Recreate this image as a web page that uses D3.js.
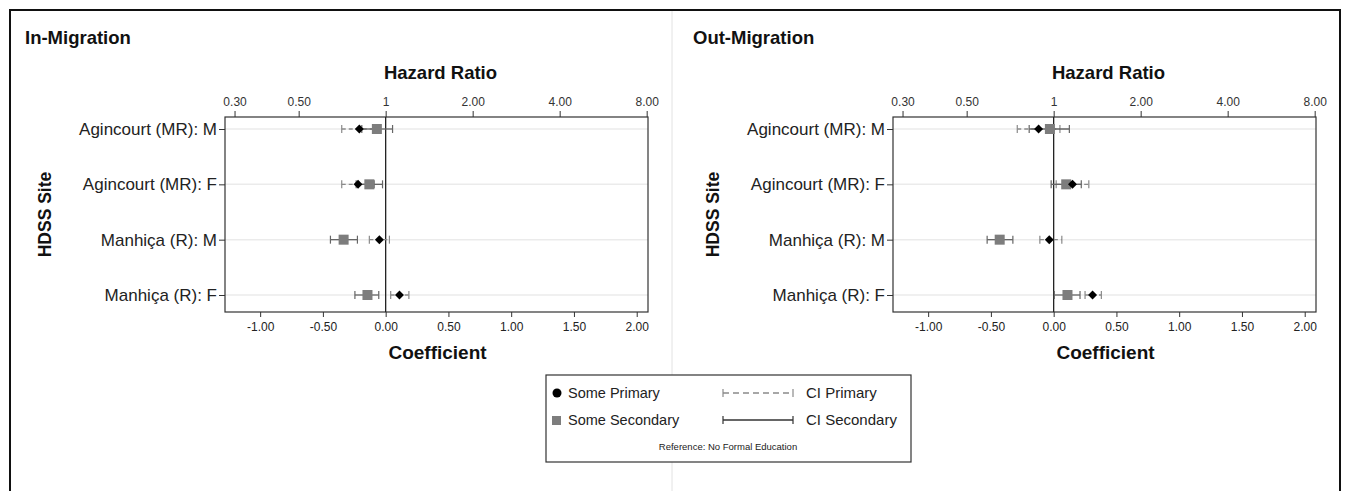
<!DOCTYPE html>
<html>
<head>
<meta charset="utf-8">
<script src="https://cdn.jsdelivr.net/npm/d3@7"></script>
<style>
  html, body { margin: 0; padding: 0; background: #fff; }
  svg { display: block; font-family: "Liberation Sans", Arial, sans-serif; }
</style>
</head>
<body>
<svg id="chart" width="1349" height="491"></svg>
<script>
// Sites (rows, top to bottom)
const sites = ["Agincourt (MR): M", "Agincourt (MR): F", "Manhiça (R): M", "Manhiça (R): F"];

// Axis ticks
const coefTicks = [-1, -0.5, 0, 0.5, 1, 1.5, 2];
const hrTicks = [0.3, 0.5, 1, 2, 4, 8];
const hrTickLabels = ["0.30", "0.50", "1", "2.00", "4.00", "8.00"];

// In-migration coefficients (log hazard ratios) with 95% CI
const inPrimaryEst  = [-0.21, -0.22, -0.05, 0.11];
const inPrimaryLow  = [-0.35, -0.35, -0.13, 0.04];
const inPrimaryHigh = [-0.07, -0.09, 0.03, 0.185];
const inSecondaryEst  = [-0.07, -0.13, -0.335, -0.145];
const inSecondaryLow  = [-0.19, -0.235, -0.44, -0.245];
const inSecondaryHigh = [0.055, -0.025, -0.225, -0.055];

// Out-migration coefficients with 95% CI
const outPrimaryEst  = [-0.12, 0.15, -0.035, 0.31];
const outPrimaryLow  = [-0.29, 0.02, -0.11, 0.25];
const outPrimaryHigh = [0.05, 0.28, 0.065, 0.38];
const outSecondaryEst  = [-0.03, 0.10, -0.43, 0.11];
const outSecondaryLow  = [-0.195, -0.02, -0.53, 0.005];
const outSecondaryHigh = [0.125, 0.22, -0.325, 0.21];

const panels = [
  { title: "In-Migration", offset: 0,
    pe: inPrimaryEst, pl: inPrimaryLow, ph: inPrimaryHigh,
    se: inSecondaryEst, sl: inSecondaryLow, sh: inSecondaryHigh },
  { title: "Out-Migration", offset: 668,
    pe: outPrimaryEst, pl: outPrimaryLow, ph: outPrimaryHigh,
    se: outSecondaryEst, sl: outSecondaryLow, sh: outSecondaryHigh }
];

const svg = d3.select("#chart");
const FONT = "Liberation Sans, Arial, sans-serif";

// Outer frame and panel divider
svg.append("path")
  .attr("d", "M10,491 L10,10 L1340,10 L1340,491")
  .attr("fill", "none").attr("stroke", "#111").attr("stroke-width", 2);
svg.append("line")
  .attr("x1", 672).attr("x2", 672).attr("y1", 11).attr("y2", 491)
  .attr("stroke", "#e2e2e2").attr("stroke-width", 1);

const frame = { left: 225, right: 648, top: 117, bottom: 312 };
const coefDomain = [-1.28, 2.09];

panels.forEach(p => {
  const g = svg.append("g").attr("transform", `translate(${p.offset},0)`);

  const x = d3.scaleLinear().domain(coefDomain).range([frame.left, frame.right]);
  const xHr = d3.scaleLog().domain(coefDomain.map(Math.exp)).range([frame.left, frame.right]);
  const y = d3.scalePoint().domain(sites).range([frame.top + 12, frame.bottom - 17]);

  // Panel title
  g.append("text").attr("x", 25).attr("y", 44)
    .attr("font-size", 18.5).attr("font-weight", "bold").attr("fill", "#111")
    .text(p.title);

  // Row gridlines
  g.append("g").selectAll("line").data(sites).join("line")
    .attr("x1", frame.left).attr("x2", frame.right)
    .attr("y1", d => y(d)).attr("y2", d => y(d))
    .attr("stroke", "#ebebeb").attr("stroke-width", 1.5);

  // Top axis: hazard ratio
  const top = g.append("g").attr("transform", `translate(0,${frame.top})`)
    .call(d3.axisTop(xHr).tickValues(hrTicks)
      .tickFormat((d, i) => hrTickLabels[i]).tickSize(6).tickPadding(5));
  top.select(".domain").remove();
  top.selectAll(".tick line").attr("stroke", "#333");
  top.selectAll(".tick text").attr("font-size", 12).attr("fill", "#333")
    .attr("font-family", FONT);

  // Bottom axis: coefficient
  const bottom = g.append("g").attr("transform", `translate(0,${frame.bottom})`)
    .call(d3.axisBottom(x).tickValues(coefTicks)
      .tickFormat(d => d.toFixed(2)).tickSize(5).tickPadding(5));
  bottom.select(".domain").remove();
  bottom.selectAll(".tick line").attr("stroke", "#333");
  bottom.selectAll(".tick text").attr("font-size", 12).attr("fill", "#222")
    .attr("font-family", FONT);

  // Left axis: sites
  const left = g.append("g").attr("transform", `translate(${frame.left},0)`)
    .call(d3.axisLeft(y).tickSize(6).tickPadding(2));
  left.select(".domain").remove();
  left.selectAll(".tick line").attr("stroke", "#333");
  left.selectAll(".tick text").attr("font-size", 17).attr("fill", "#222")
    .attr("font-family", FONT);

  // Plot frame
  g.append("rect")
    .attr("x", frame.left).attr("y", frame.top)
    .attr("width", frame.right - frame.left).attr("height", frame.bottom - frame.top)
    .attr("fill", "none").attr("stroke", "#333").attr("stroke-width", 1.2);

  // Reference line at coefficient 0 (hazard ratio 1)
  g.append("line")
    .attr("x1", x(0)).attr("x2", x(0)).attr("y1", frame.top).attr("y2", frame.bottom)
    .attr("stroke", "#222").attr("stroke-width", 1.3);

  // Axis titles
  g.append("text").attr("x", (frame.left + frame.right) / 2 + 4).attr("y", 79)
    .attr("text-anchor", "middle").attr("font-size", 18.5).attr("font-weight", "bold")
    .attr("fill", "#111").text("Hazard Ratio");
  g.append("text").attr("x", (frame.left + frame.right) / 2 + 1).attr("y", 359)
    .attr("text-anchor", "middle").attr("font-size", 19).attr("font-weight", "bold")
    .attr("fill", "#111").text("Coefficient");
  g.append("text")
    .attr("transform", `translate(51,${(frame.top + frame.bottom) / 2}) rotate(-90)`)
    .attr("text-anchor", "middle").attr("font-size", 17.5).attr("font-weight", "bold")
    .attr("fill", "#111").text("HDSS Site");

  const cap = 4;
  const ci = (lo, hi, cls, stroke, dash) => {
    const cg = g.append("g").attr("class", cls);
    sites.forEach((s, i) => {
      const yy = y(s);
      cg.append("line").attr("x1", x(lo[i])).attr("x2", x(hi[i]))
        .attr("y1", yy).attr("y2", yy)
        .attr("stroke", stroke).attr("stroke-width", 1.3)
        .attr("stroke-dasharray", dash);
      [lo[i], hi[i]].forEach(v => {
        cg.append("line").attr("x1", x(v)).attr("x2", x(v))
          .attr("y1", yy - cap).attr("y2", yy + cap)
          .attr("stroke", stroke).attr("stroke-width", 1.2);
      });
    });
  };

  // Confidence intervals
  ci(p.pl, p.ph, "ci-primary", "#8a8a8a", "4,3");
  ci(p.sl, p.sh, "ci-secondary", "#666", null);

  // Some Secondary estimates: grey squares
  g.append("g").selectAll("rect").data(p.se).join("rect")
    .attr("x", d => x(d) - 5).attr("y", (d, i) => y(sites[i]) - 5)
    .attr("width", 10).attr("height", 10)
    .attr("fill", "#7d7d7d");

  // Some Primary estimates: black diamonds
  const diamond = d3.symbol().type(d3.symbolSquare).size(40);
  g.append("g").selectAll("path").data(p.pe).join("path")
    .attr("d", diamond)
    .attr("transform", (d, i) => `translate(${x(d)},${y(sites[i])}) rotate(45)`)
    .attr("fill", "#000");
});

// Legend
const lg = svg.append("g");
lg.append("rect").attr("x", 546).attr("y", 375).attr("width", 365).attr("height", 87)
  .attr("fill", "#fff").attr("stroke", "#333").attr("stroke-width", 1.2);
lg.append("circle").attr("cx", 557).attr("cy", 393).attr("r", 4.5).attr("fill", "#000");
lg.append("rect").attr("x", 552).attr("y", 416).attr("width", 9).attr("height", 9).attr("fill", "#7d7d7d");
lg.append("text").attr("x", 568).attr("y", 398).attr("font-size", 14.5).attr("fill", "#222").text("Some Primary");
lg.append("text").attr("x", 568).attr("y", 425).attr("font-size", 14.5).attr("fill", "#222").text("Some Secondary");

const legendCi = (yy, stroke, dash, label) => {
  lg.append("line").attr("x1", 723).attr("x2", 793).attr("y1", yy).attr("y2", yy)
    .attr("stroke", stroke).attr("stroke-width", 1.3).attr("stroke-dasharray", dash);
  [723, 793].forEach(xx => lg.append("line").attr("x1", xx).attr("x2", xx)
    .attr("y1", yy - 4).attr("y2", yy + 4).attr("stroke", stroke).attr("stroke-width", 1.2));
  lg.append("text").attr("x", 806).attr("y", yy + 5).attr("font-size", 15).attr("fill", "#222").text(label);
};
legendCi(393, "#8a8a8a", "6,4", "CI Primary");
legendCi(420, "#333", null, "CI Secondary");
lg.append("text").attr("x", 728).attr("y", 450).attr("text-anchor", "middle")
  .attr("font-size", 9.5).attr("fill", "#222").text("Reference: No Formal Education");
</script>
</body>
</html>
